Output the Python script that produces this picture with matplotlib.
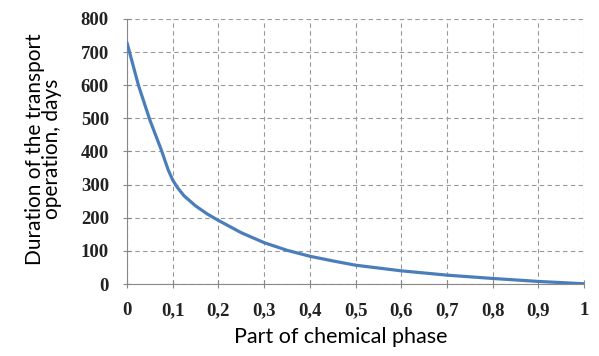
import matplotlib.pyplot as plt
from matplotlib.ticker import FixedLocator

# values
share = [0, 0.025, 0.05, 0.075, 0.09, 0.1, 0.11, 0.125, 0.15, 0.175, 0.2,
         0.25, 0.3, 0.35, 0.4, 0.45, 0.5, 0.6, 0.7, 0.8, 0.9, 1.0]
duration = [728, 600, 495, 405, 345, 314, 292, 266, 236, 212, 192,
            155, 125, 102, 84, 70, 57, 40, 27, 17, 8, 1]
x_ticks = [0, 0.1, 0.2, 0.3, 0.4, 0.5, 0.6, 0.7, 0.8, 0.9, 1.0]
x_tick_labels = ["0", "0,1", "0,2", "0,3", "0,4", "0,5", "0,6", "0,7", "0,8", "0,9", "1"]
y_ticks = [0, 100, 200, 300, 400, 500, 600, 700, 800]

fig = plt.figure(figsize=(5.99, 3.56), dpi=100)
ax = fig.add_axes([0.212, 0.202, 0.763, 0.745])

ax.plot(share, duration, color="#4A7EBB", lw=2.3, solid_capstyle="round",
        solid_joinstyle="round", zorder=3)

ax.set_xlim(0, 1)
ax.set_ylim(0, 800)
ax.xaxis.set_major_locator(FixedLocator(x_ticks))
ax.set_xticklabels(x_tick_labels)
ax.yaxis.set_major_locator(FixedLocator(y_ticks))

for lab in ax.get_xticklabels() + ax.get_yticklabels():
    lab.set_family("Liberation Serif")
    lab.set_fontweight("bold")
    lab.set_fontsize(13.5)
    lab.set_color("#222222")

ax.tick_params(direction="inout", length=6, width=0.8, color="#888888")
ax.tick_params(axis="y", pad=10)
ax.tick_params(axis="x", pad=10)

ax.grid(True, ls=(0, (4, 3)), color="#999999", lw=0.8)
ax.spines[["top", "right"]].set_visible(False)
ax.spines[["left", "bottom"]].set_color("#888888")
ax.set_axisbelow(True)

ax.set_xlabel("Part of chemical phase", family="Lato", fontsize=15.5)
ax.xaxis.set_label_coords(0.467, -0.16)
ax.set_ylabel("Duration of the transport\noperation, days", family="Lato",
              fontsize=15, linespacing=0.8)
ax.yaxis.set_label_coords(-0.142, 0.51)

fig.savefig("out.png", dpi=100)
